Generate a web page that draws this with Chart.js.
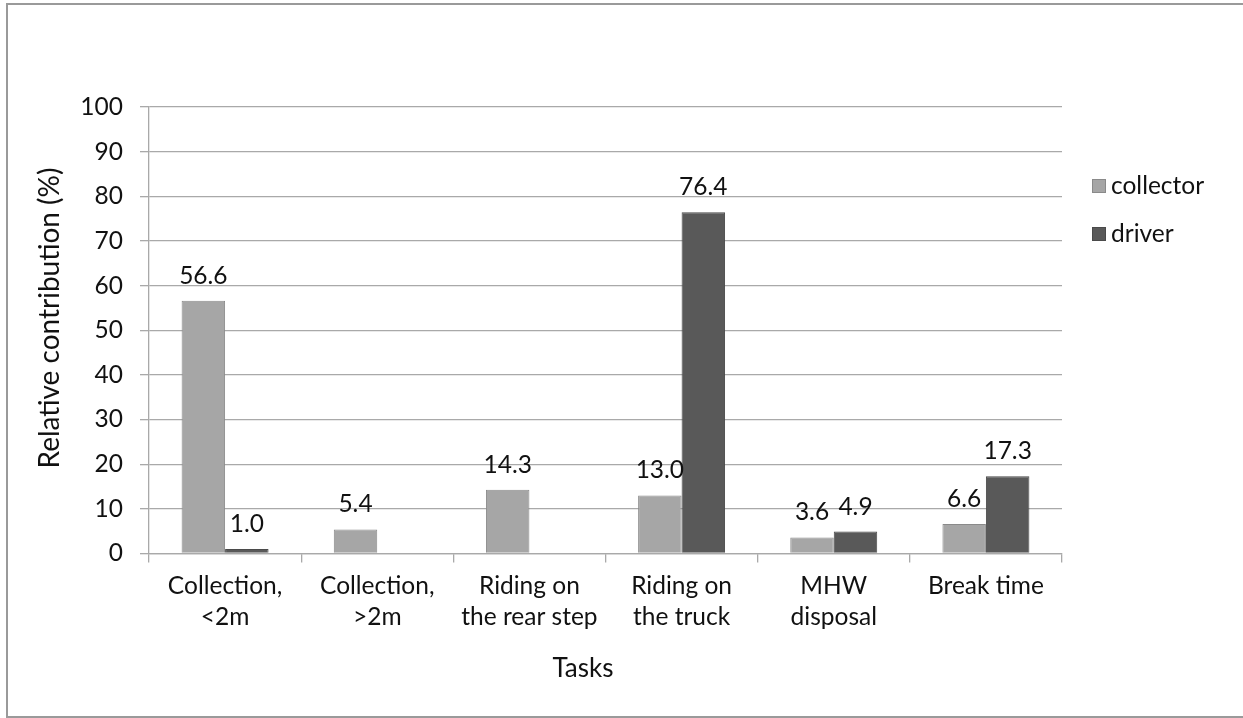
<!DOCTYPE html>
<html>
<head>
<meta charset="utf-8">
<title>Relative contribution by task</title>
<script src="https://cdn.jsdelivr.net/npm/chart.js@4.4.1/dist/chart.umd.min.js"></script>
<style>
    html, body { margin: 0; padding: 0; background: #fff; }
    #wrap { position: relative; width: 1243px; height: 718px; overflow: hidden; }
    #frame {
        position: absolute; left: 6px; top: 3px; width: 1260px; height: 715px;
        box-sizing: border-box; border: 2px solid #9a9a9a; pointer-events: none;
    }
    canvas { position: absolute; left: 0; top: 0; }
</style>
</head>
<body>
<div id="wrap">
    <canvas id="myChart" width="1243" height="718"></canvas>
    <div id="frame"></div>
</div>
<script>
const taskLabels = [
    ['Collection,', '<2m'],
    ['Collection,', '>2m'],
    ['Riding on', 'the rear step'],
    ['Riding on', 'the truck'],
    ['MHW', 'disposal'],
    'Break time'
];
const collectorValues = [56.6, 5.4, 14.3, 13.0, 3.6, 6.6];
const driverValues = [1.0, null, null, 76.4, 4.9, 17.3];
const yTicks = [0, 10, 20, 30, 40, 50, 60, 70, 80, 90, 100];
const xTitle = 'Tasks';
const yTitle = 'Relative contribution (%)';

const FONT = 'Lato, "Open Sans", sans-serif';
const TEXT = '#111111';
const gridColor = '#a9a9a9';

// value labels above each bar, one decimal
const barLabels = {
    id: 'barLabels',
    afterDatasetsDraw(chart) {
        const ctx = chart.ctx;
        ctx.save();
        ctx.font = '24.5px ' + FONT;
        ctx.fillStyle = TEXT;
        ctx.textAlign = 'center';
        ctx.textBaseline = 'alphabetic';
        chart.data.datasets.forEach((ds, i) => {
            chart.getDatasetMeta(i).data.forEach((bar, j) => {
                const v = ds.data[j];
                if (v === null || v === undefined) return;
                ctx.fillText(v.toFixed(1), bar.x, bar.y - 17);
            });
        });
        ctx.restore();
    }
};

// axis titles, placed a little off the plot centre like the office chart
const axisTitles = {
    id: 'axisTitles',
    afterDraw(chart) {
        const ctx = chart.ctx;
        ctx.save();
        ctx.fillStyle = TEXT;
        ctx.textAlign = 'center';
        ctx.textBaseline = 'middle';
        ctx.font = '26px ' + FONT;
        ctx.fillText(xTitle, 583, 669);
        ctx.translate(50, 318);
        ctx.rotate(-Math.PI / 2);
        ctx.font = '28px ' + FONT;
        ctx.fillText(yTitle, 0, 0);
        ctx.restore();
    }
};

// legend at the right, square swatch + name
const sideLegend = {
    id: 'sideLegend',
    afterDraw(chart) {
        const ctx = chart.ctx;
        ctx.save();
        ctx.font = '24.5px ' + FONT;
        ctx.textBaseline = 'middle';
        ctx.textAlign = 'left';
        chart.data.datasets.forEach((ds, i) => {
            const y = 186 + i * 48;
            ctx.fillStyle = ds.backgroundColor;
            ctx.fillRect(1092, y - 7, 14, 14);
            ctx.strokeStyle = ds.borderColor;
            ctx.lineWidth = 1;
            ctx.strokeRect(1092.5, y - 6.5, 13, 13);
            ctx.fillStyle = TEXT;
            ctx.fillText(ds.label, 1111, y);
        });
        ctx.restore();
    }
};

const ctx = document.getElementById('myChart').getContext('2d');
const myChart = new Chart(ctx, {
    type: 'bar',
    data: {
        labels: taskLabels,
        datasets: [{
            label: 'collector',
            data: collectorValues,
            backgroundColor: '#a6a6a6',
            borderColor: '#8a8a8a',
            borderWidth: 1,
            categoryPercentage: 2 / 3.5,
            barPercentage: 1
        }, {
            label: 'driver',
            data: driverValues,
            backgroundColor: '#595959',
            borderColor: '#4a4a4a',
            borderWidth: 1,
            categoryPercentage: 2 / 3.5,
            barPercentage: 1
        }]
    },
    options: {
        responsive: false,
        animation: false,
        layout: {
            padding: { left: 0, right: 181, top: 107, bottom: 0 }
        },
        plugins: {
            legend: { display: false },
            tooltip: { enabled: false }
        },
        scales: {
            x: {
                offset: true,
                grid: {
                    offset: true,
                    drawOnChartArea: false,
                    drawTicks: true,
                    tickLength: 9,
                    color: gridColor,
                    lineWidth: 1.3
                },
                border: { display: true, color: gridColor, width: 1.3 },
                ticks: {
                    color: TEXT,
                    padding: 8,
                    maxRotation: 0,
                    autoSkip: false,
                    font: { family: FONT, size: 24.5, lineHeight: 1.27 }
                },
                afterFit(scale) { scale.height = 164.5; }
            },
            y: {
                min: 0,
                max: 100,
                afterBuildTicks(scale) {
                    scale.ticks = yTicks.map(v => ({ value: v }));
                },
                grid: {
                    drawTicks: true,
                    tickLength: 9,
                    color: gridColor,
                    lineWidth: 1.3
                },
                border: { display: true, color: gridColor, width: 1.3 },
                ticks: {
                    color: TEXT,
                    padding: 17,
                    font: { family: FONT, size: 24.5 }
                },
                afterFit(scale) { scale.width = 149; }
            }
        }
    },
    plugins: [barLabels, axisTitles, sideLegend]
});
</script>
</body>
</html>
